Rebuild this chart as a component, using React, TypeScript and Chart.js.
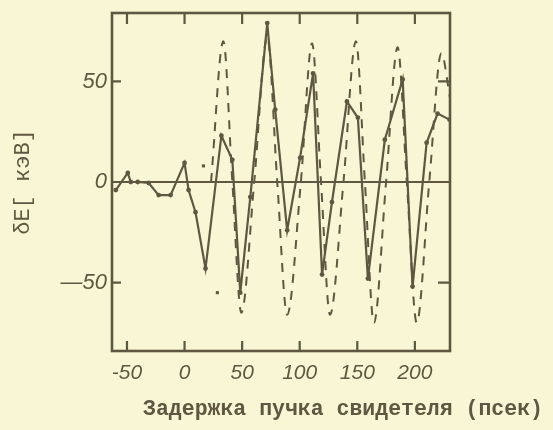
import React, { useEffect, useRef } from 'react';
import { Chart, registerables } from 'chart.js';

Chart.register(...registerables);

// measured (solid line with points)
const measuredDelay = [
  -59.7, -49.3, -46.7, -40.7, -31.1, -22.5, -12.1, 0, 3.5, 9.5, 18.2, 32, 41.5, 48.4, 57.1,
  71.8, 78.7, 89.1, 100.3, 111.6, 119.4, 128, 141, 150.5, 159.2, 173.9, 189.4, 198, 210.2,
  219.7, 230.1,
];
const measuredShift = [
  -4, 4.5, 0, 0, -0.5, -6.5, -6.5, 9.5, -4, -15, -43, 23, 11, -55, -7.5,
  79, 36, -24, 12, 54, -46, -10, 40, 32, -48, 21, 51, -52, 19.5,
  34, 31,
];

// calculated (dashed curve)
const calcDelay = [
  23, 33.7, 41.5, 49.3, 60.5, 71.8, 80.5, 89.1, 101, 110.7, 118.5, 126.3, 138, 148.8,
  156.6, 164.4, 175, 185, 193, 201.6, 212.5, 223, 230.5,
];
const calcShift = [
  0, 70, 0, -65, 0, 72, 0, -66, 0, 69, 0, -66, 0, 70,
  0, -70, 0, 67, 0, -70, 0, 64, 42,
];

// isolated dots
const strayDelay = [16.4, 28.5];
const strayShift = [8, -55];

const xTickValues = [-50, 0, 50, 100, 150, 200];
const yTickValues = [-50, 0, 50];
const xTitle = 'Задержка пучка свидетеля (псек)';
const yTitle = 'δE[ кэВ]';

const INK = '#5f5742';
const PAPER = '#f8f6d4';

const framePlugin = {
  id: 'frame',
  beforeDraw(chart: any) {
    const { ctx, width, height } = chart;
    ctx.save();
    ctx.fillStyle = PAPER;
    ctx.fillRect(0, 0, width, height);
    ctx.restore();
  },
  afterDatasetsDraw(chart: any) {
    const { ctx, chartArea: a, scales } = chart;
    const x = scales.x;
    const y = scales.y;
    ctx.save();
    ctx.strokeStyle = INK;
    ctx.lineCap = 'butt';
    // zero line
    ctx.lineWidth = 2.2;
    const y0 = y.getPixelForValue(0);
    ctx.beginPath();
    ctx.moveTo(a.left, y0);
    ctx.lineTo(a.right, y0);
    ctx.stroke();
    // frame
    ctx.lineWidth = 2.6;
    ctx.strokeRect(a.left, a.top, a.right - a.left, a.bottom - a.top);
    // inward ticks
    ctx.lineWidth = 2.2;
    ctx.beginPath();
    for (const v of xTickValues) {
      const px = x.getPixelForValue(v);
      ctx.moveTo(px, a.bottom);
      ctx.lineTo(px, a.bottom - 10);
      ctx.moveTo(px, a.top);
      ctx.lineTo(px, a.top + 11);
    }
    for (const v of yTickValues) {
      const py = y.getPixelForValue(v);
      ctx.moveTo(a.left, py);
      ctx.lineTo(a.left + 9, py);
      ctx.moveTo(a.right, py);
      ctx.lineTo(a.right - 12, py);
    }
    ctx.stroke();
    // x title
    ctx.fillStyle = INK;
    ctx.font = 'bold 21.5px "Liberation Mono"';
    ctx.textAlign = 'center';
    ctx.textBaseline = 'middle';
    ctx.fillText(xTitle, 343, 410);
    ctx.restore();
  },
};

export default function App() {
  const ref = useRef<HTMLCanvasElement>(null);
  useEffect(() => {
    document.body.style.margin = '0';
    document.body.style.background = PAPER;
    const canvas = ref.current!;
    const chart = new Chart(canvas, {
      type: 'line',
      data: {
        datasets: [
          {
            label: 'calc',
            data: calcDelay.map((t, i) => ({ x: t, y: calcShift[i] })),
            borderColor: INK,
            borderWidth: 2,
            borderDash: [9, 8],
            pointRadius: 0,
            cubicInterpolationMode: 'monotone',
            fill: false,
          },
          {
            label: 'measured',
            data: measuredDelay.map((t, i) => ({ x: t, y: measuredShift[i] })),
            borderColor: INK,
            borderWidth: 2.2,
            pointRadius: 2.4,
            pointBorderWidth: 0,
            pointBackgroundColor: INK,
            tension: 0,
            fill: false,
          },
          {
            label: 'stray',
            data: strayDelay.map((t, i) => ({ x: t, y: strayShift[i] })),
            showLine: false,
            pointStyle: 'rect',
            pointRadius: 2.2,
            pointBorderWidth: 0,
            pointBackgroundColor: INK,
          },
        ],
      },
      options: {
        responsive: false,
        animation: false,
        devicePixelRatio: 1,
        layout: { padding: { left: 0, right: 103, top: 13, bottom: 0 } },
        plugins: { legend: { display: false }, tooltip: { enabled: false } },
        scales: {
          x: {
            type: 'linear',
            min: -63,
            max: 230.5,
            afterBuildTicks: (s: any) => {
              s.ticks = xTickValues.map((v) => ({ value: v }));
            },
            afterFit: (s: any) => {
              s.height = 79;
              s.paddingLeft = 0;
              s.paddingRight = 0;
            },
            grid: { display: false, drawTicks: false },
            border: { display: false },
            ticks: {
              padding: 10,
              color: INK,
              autoSkip: false,
              maxRotation: 0,
              font: { family: '"Liberation Sans"', style: 'italic', size: 21 },
              callback: (v: any) => String(v),
            },
          },
          y: {
            type: 'linear',
            min: -84,
            max: 84,
            afterBuildTicks: (s: any) => {
              s.ticks = yTickValues.map((v) => ({ value: v }));
            },
            afterFit: (s: any) => {
              s.width = 112;
              s.paddingTop = 0;
              s.paddingBottom = 0;
            },
            grid: { display: false, drawTicks: false },
            border: { display: false },
            ticks: {
              padding: 5,
              color: INK,
              autoSkip: false,
              font: { family: '"Liberation Sans"', style: 'italic', size: 22 },
              callback: (v: any) => (Number(v) < 0 ? '—' + Math.abs(Number(v)) : String(v)),
            },
            title: {
              display: true,
              text: yTitle,
              color: INK,
              font: { family: '"Liberation Mono"', size: 22 },
              padding: { top: 10, bottom: 0 },
            },
          },
        },
      },
      plugins: [framePlugin],
    });
    return () => chart.destroy();
  }, []);
  return <canvas ref={ref} width={553} height={430} style={{ display: 'block' }} />;
}
